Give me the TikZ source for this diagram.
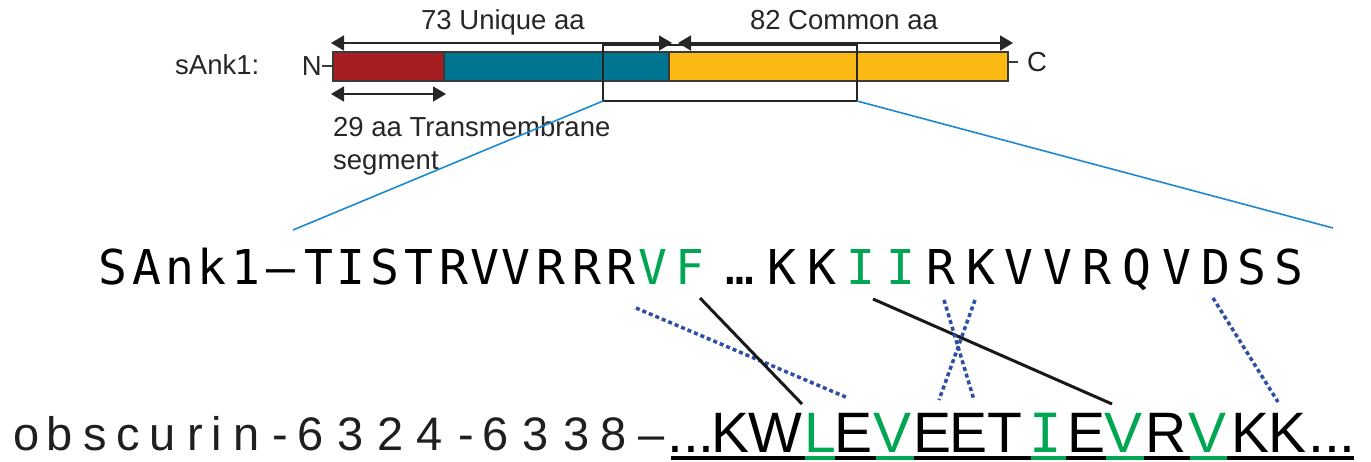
\documentclass[tikz,border=0pt]{standalone}
\usepackage{fontspec}
\setmainfont{Liberation Sans}
\newfontfamily\monofont{DejaVu Sans Mono}
\usetikzlibrary{arrows.meta}
\definecolor{tmred}{HTML}{A61E22}
\definecolor{tmteal}{HTML}{007592}
\definecolor{tmyel}{HTML}{FDB913}
\definecolor{tmgrn}{HTML}{00A651}
\definecolor{zoomblue}{HTML}{1E88CF}
\definecolor{dotblue}{HTML}{2E4DA7}
\definecolor{edge}{HTML}{3A3A3A}
\begin{document}
\begin{tikzpicture}[x=1pt,y=-1pt,
  lbl/.style={inner sep=0pt,anchor=base,font=\fontsize{27.5}{30}\selectfont,text=black!85},
  seqA/.style={inner sep=0pt,anchor=base,font=\monofont\fontsize{48}{50}\selectfont},
  seqB/.style={inner sep=0pt,anchor=base,font=\fontsize{57}{58}\selectfont},
  seqBI/.style={inner sep=0pt,anchor=base,font=\monofont\fontsize{54}{56}\selectfont},
  obs/.style={inner sep=0pt,anchor=base,font=\fontsize{47}{50}\selectfont,text=black!88},
  seg/.style={draw=edge,line width=1.2pt},
  dimarrow/.style={line width=1.6pt,black!85,{Triangle[length=13pt,width=15pt]}-{Triangle[length=13pt,width=15pt]}},
  zoomline/.style={zoomblue,line width=1.6pt},
  solidcon/.style={black!90,line width=3pt},
  dotcon/.style={dotblue,line width=3.5pt,dash pattern=on 4pt off 3pt}]
\useasboundingbox (0,0) rectangle (1371,462);

% ---- top labels
\node[lbl] (uniq) at (503,30) {73 Unique aa};
\node[lbl] (comm) at (844,30) {82 Common aa};
\node[lbl,anchor=base west] (sank) at (175,75) {sAnk1:};
\node[lbl,anchor=base east] (nterm) at (322,76) {N};
\node[lbl,anchor=base west] (cterm) at (1027,72) {C};

% ---- bar
\filldraw[seg,fill=tmred] (333,52) rectangle (444,81);
\filldraw[seg,fill=tmteal] (444,52) rectangle (669,81);
\filldraw[seg,fill=tmyel] (669,52) rectangle (1008,81);
\coordinate (ntick) at (322,66);
\coordinate (ctick) at (1018,62);
\draw[line width=1.2pt,edge] (ntick) -- (333,66);
\draw[line width=1.2pt,edge] (1008,62) -- (ctick);

% ---- dimension arrows
\draw[dimarrow] (331,43) -- (672,43);
\draw[dimarrow] (678,43) -- (1013,43);
\draw[dimarrow] (331,94) -- (446,94);
\node[lbl,anchor=base west] (tm1) at (333,137) {29 aa Transmembrane};
\node[lbl,anchor=base west] (tm2) at (333,170) {segment};

% ---- zoom box
\draw[line width=2.6pt,black!85] (603,45) rectangle (857,101);
\coordinate (zl) at (603,101);
\coordinate (zr) at (857,101);
\coordinate (el) at (293,230);
\coordinate (er) at (1333,228);
\draw[zoomline] (zl) -- (el);
\draw[zoomline] (zr) -- (er);

% ---- sAnk1 sequence
\foreach [count=\i] \c/\x/\col in {S/113/black,A/147/black,n/180/black,k/212/black,1/246/black,–/281/black,
  T/319/black,I/351/black,S/385/black,T/419/black,R/454/black,V/485/black,V/516/black,R/551/black,R/587/black,R/621/black,
  V/653/tmgrn,F/690/tmgrn,…/740/black,K/782/black,K/822/black,I/861/tmgrn,I/901/tmgrn,R/941/black,K/981/black,
  V/1019/black,V/1058/black,R/1097/black,Q/1137/black,V/1177/black,D/1216/black,S/1252/black,S/1289/black}
  \node[seqA,text=\col] (a\i) at (\x,285) {\c};

% ---- obscurin label
\foreach [count=\i] \c/\x in {o/27,b/60,s/95,c/128,u/163,r/195,i/217,n/247,-/280,6/311,3/351,2/391,4/430,-/466,6/496,3/536,3/577,8/614,–/652}
  \node[obs] (o\i) at (\x,450) {\c};

% ---- obscurin sequence
\node[seqB] (bd1) at (691,452) {...};
\foreach [count=\i] \c/\x/\col in {K/731/black,W/775/black,L/820/tmgrn,E/853/black,V/892/tmgrn,E/932/black,E/968/black,
  T/1005/black}
  \node[seqB,text=\col] (b\i) at (\x,452) {\c};
\node[seqBI,text=tmgrn] (b9) at (1046,452) {I};
\foreach [count=\i from 10] \c/\x/\col in {E/1086/black,V/1123/tmgrn,R/1166/black,V/1207/tmgrn,K/1250/black,K/1287/black}
  \node[seqB,text=\col] (b\i) at (\x,452) {\c};
\node[seqB] (bd2) at (1332,452) {...};

% ---- underline
\coordinate (ul) at (671,458);
\coordinate (ur) at (1354,458);
\draw[line width=3.2pt,black] (ul) -- (ur);
\foreach \a/\b in {805/835,876/914,1031/1066,1106/1144,1190/1227}
  \draw[line width=3.2pt,tmgrn] (\a,458) -- (\b,458);

% ---- connectors
\coordinate (c1a) at (636,308); \coordinate (c1b) at (848,398);
\coordinate (c2a) at (700,298); \coordinate (c2b) at (802,404);
\coordinate (c3a) at (873,299); \coordinate (c3b) at (1112,404);
\coordinate (c4a) at (944,300); \coordinate (c4b) at (974,400);
\coordinate (c5a) at (975,300); \coordinate (c5b) at (939,400);
\coordinate (c6a) at (1213,298); \coordinate (c6b) at (1278,402);
\draw[dotcon] (c1a) -- (c1b);
\draw[solidcon] (c2a) -- (c2b);
\draw[solidcon] (c3a) -- (c3b);
\draw[dotcon] (c4a) -- (c4b);
\draw[dotcon] (c5a) -- (c5b);
\draw[dotcon] (c6a) -- (c6b);
\end{tikzpicture}
\end{document}
